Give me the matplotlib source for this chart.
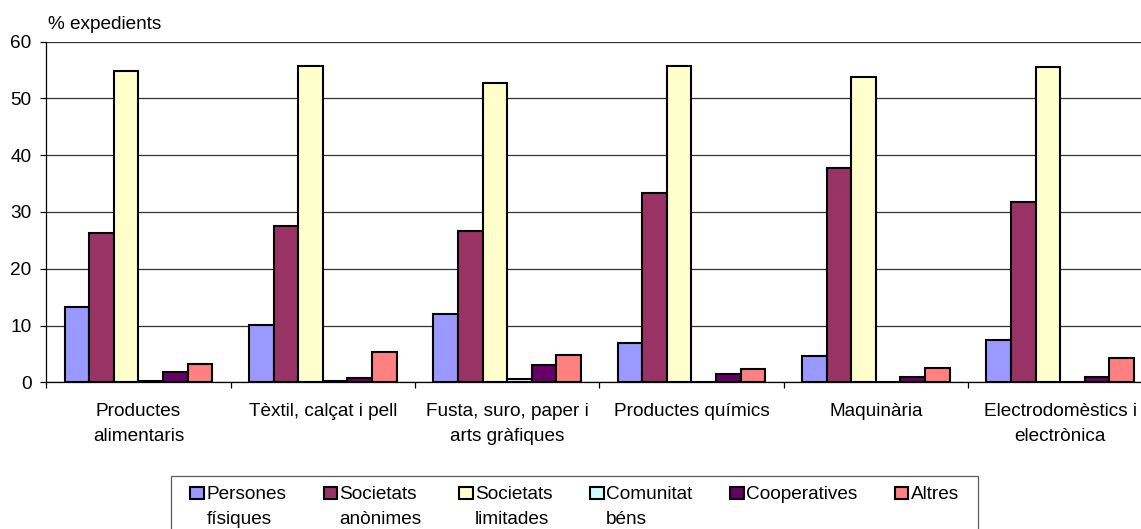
import matplotlib
matplotlib.use('Agg')
import matplotlib.pyplot as plt
import matplotlib.patches as mpatches
from matplotlib.path import Path
from matplotlib.legend_handler import HandlerPatch
import numpy as np

plt.rcParams['font.family'] = ['Liberation Sans', 'DejaVu Sans']
plt.rcParams['font.size'] = 13.7

sectors = ['Productes\nalimentaris', 'Tèxtil, calçat i pell',
           'Fusta, suro, paper i\narts gràfiques', 'Productes químics',
           'Maquinària', 'Electrodomèstics i\nelectrònica']

persones_fisiques = [13.2, 10.1, 12.1, 7.0, 4.7, 7.4]
societats_anonimes = [26.3, 27.6, 26.6, 33.4, 37.8, 31.7]
societats_limitades = [54.9, 55.8, 52.8, 55.7, 53.8, 55.5]
comunitat_bens = [0.3, 0.3, 0.6, 0.0, 0.1, 0.1]
cooperatives = [1.9, 0.75, 3.1, 1.4, 1.0, 1.0]
altres = [3.2, 5.3, 4.85, 2.4, 2.45, 4.2]

series = [persones_fisiques, societats_anonimes, societats_limitades,
          comunitat_bens, cooperatives, altres]
labels = ['Persones\nfísiques', 'Societats\nanònimes', 'Societats\nlimitades',
          'Comunitat\nbéns', 'Cooperatives\n', 'Altres\n']
colors = ['#9999FF', '#993366', '#FFFFCC', '#CCFFFF', '#660066', '#FF8080']

LINESP = 1.62


def raised_square(legend, orig_handle, xdescent, ydescent, width, height, fontsize):
    # put the key next to the first line of a two-line label
    return mpatches.Rectangle((-xdescent, -ydescent + 0.69 * fontsize), width, height)


def wide_box(x0, y0, width, height, mutation_size):
    dx = 0.5 * mutation_size
    return Path([(x0 - dx, y0), (x0 + width + dx, y0), (x0 + width + dx, y0 + height),
                 (x0 - dx, y0 + height), (x0 - dx, y0)], closed=True)


fig = plt.figure(figsize=(11.41, 5.29), dpi=100)
ax = fig.add_axes([0.0406, 0.2773, 0.9693, 0.6439])

x = np.arange(len(sectors))
w = 0.8 / len(series)
bars = []
for j, (vals, col) in enumerate(zip(series, colors)):
    b = ax.bar(x + (j - 2.5) * w, vals, w, color=col, edgecolor='black',
               linewidth=1.5, zorder=3)
    bars.append(b.patches[0])

ax.set_xlim(-0.5, len(sectors) - 0.5)
ax.set_ylim(0, 60)
ax.set_yticks(range(0, 61, 10))
ax.yaxis.grid(True, color='#333333', linewidth=0.9, zorder=0)
ax.tick_params(axis='y', direction='out', length=4, width=0.9, pad=6.5)

ax.set_xticks(x)
ax.set_xticklabels(sectors)
ax.set_xticks(np.arange(len(sectors) + 1) - 0.5, minor=True)
ax.tick_params(axis='x', which='major', length=0, pad=15)
ax.tick_params(axis='x', which='minor', direction='out', length=4, width=0.9)
for lbl in ax.get_xticklabels():
    lbl.set_linespacing(LINESP)

for side in ['top', 'right']:
    ax.spines[side].set_visible(False)
ax.spines['left'].set_linewidth(0.9)
ax.spines['bottom'].set_linewidth(0.9)

fig.text(0.0421, 0.9452, '% expedients', va='baseline', ha='left')

leg = fig.legend(bars, labels, loc='upper center', bbox_to_anchor=(0.5035, 0.1002),
                 ncol=6, frameon=True, fancybox=False, borderaxespad=0,
                 borderpad=0.5, handlelength=0.72, handleheight=0.62,
                 handletextpad=0.12, columnspacing=1.97,
                 handler_map={mpatches.Patch: HandlerPatch(patch_func=raised_square)})
for t in leg.get_texts():
    t.set_linespacing(LINESP)
leg.get_frame().set_edgecolor('#333333')
leg.get_frame().set_linewidth(0.9)
leg.get_frame().set_boxstyle(wide_box)

fig.savefig('out.png', dpi=100)
